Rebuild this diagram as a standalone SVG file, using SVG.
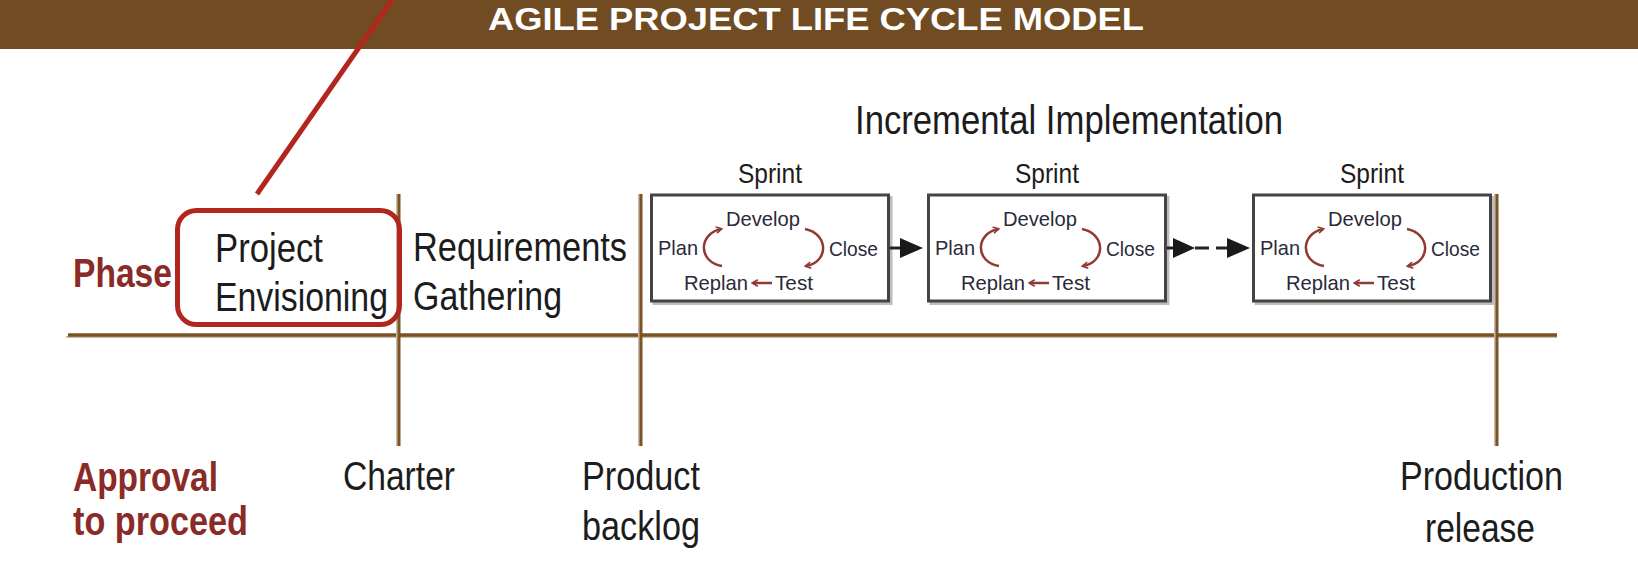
<svg xmlns="http://www.w3.org/2000/svg" width="1638" height="574" viewBox="0 0 1638 574">
<style>
text{font-family:"Liberation Sans",Arial,sans-serif;}
.lab{font-size:41px;fill:#1c1c1c;}
.red{font-size:41px;font-weight:bold;fill:#8a2b27;}
.hdr{font-size:32px;font-weight:bold;fill:#ffffff;}
.spt{font-size:28px;fill:#1c1c1c;}
.in{font-size:21px;fill:#2a2a3a;}
.vline{stroke:#7a5326;stroke-width:3;fill:none;}
.vsh{stroke:#cbbba5;stroke-width:2;fill:none;}
.arc{stroke:#8e3a35;stroke-width:2.5;fill:none;}
.box{fill:#fff;stroke:#444;stroke-width:3;}
.boxsh{fill:none;stroke:#bdbdbd;stroke-width:3;}
.conn{stroke:#222;stroke-width:3;fill:none;}
</style>
<defs>
<marker id="ah" viewBox="0 0 10 10" refX="7" refY="5" markerWidth="3.2" markerHeight="3.2" orient="auto" markerUnits="strokeWidth">
<path d="M1,1 L8,5 L1,9" fill="none" stroke="#8e3a35" stroke-width="2"/>
</marker>
<g id="sprint">
<rect class="boxsh" x="4" y="197.5" width="237" height="106"/>
<rect class="box" x="1.5" y="195" width="237" height="106"/>
<text class="spt" x="120" y="183" text-anchor="middle" textLength="64" lengthAdjust="spacingAndGlyphs">Sprint</text>
<text class="in" x="8" y="255" textLength="40" lengthAdjust="spacingAndGlyphs">Plan</text>
<text class="in" x="76" y="226" textLength="74" lengthAdjust="spacingAndGlyphs">Develop</text>
<text class="in" x="179" y="256" textLength="49" lengthAdjust="spacingAndGlyphs">Close</text>
<text class="in" x="34" y="290" textLength="64" lengthAdjust="spacingAndGlyphs">Replan</text>
<text class="in" x="125" y="290" textLength="38" lengthAdjust="spacingAndGlyphs">Test</text>
<path class="arc" d="M72,266 C48,262 48,234 71,229" marker-end="url(#ah)"/>
<path class="arc" d="M155,229 C179,234 179,262 156,266" marker-end="url(#ah)"/>
<path class="arc" d="M122,283 L103,283" marker-end="url(#ah)"/>
</g>
</defs>

<g id="header">
<rect x="0" y="0" width="1638" height="49" fill="#714b21"/>
<text class="hdr" x="488" y="30" textLength="656" lengthAdjust="spacingAndGlyphs">AGILE PROJECT LIFE CYCLE MODEL</text>
</g>

<g id="grid">
<line class="vsh" x1="66" y1="337" x2="1557" y2="337"/>
<line x1="68" y1="335" x2="1557" y2="335" stroke="#7a5326" stroke-width="3.5"/>
<line class="vsh" x1="397" y1="194" x2="397" y2="446"/>
<line class="vline" x1="399" y1="194" x2="399" y2="446"/>
<line class="vsh" x1="639" y1="194" x2="639" y2="446"/>
<line class="vline" x1="641" y1="194" x2="641" y2="446"/>
<line class="vsh" x1="1495" y1="194" x2="1495" y2="446"/>
<line class="vline" x1="1497" y1="194" x2="1497" y2="446"/>
</g>

<g id="phase-label">
<text class="red" x="73" y="287" textLength="99" lengthAdjust="spacingAndGlyphs">Phase</text>
</g>

<g id="project-envisioning">
<rect x="177.5" y="210.5" width="222" height="114" rx="19" fill="none" stroke="#b3261e" stroke-width="5"/>
<text class="lab" x="215" y="262" textLength="108" lengthAdjust="spacingAndGlyphs">Project</text>
<text class="lab" x="215" y="311" textLength="173" lengthAdjust="spacingAndGlyphs">Envisioning</text>
</g>

<g id="requirements-gathering">
<text class="lab" x="413" y="261" textLength="214" lengthAdjust="spacingAndGlyphs">Requirements</text>
<text class="lab" x="413" y="310" textLength="149" lengthAdjust="spacingAndGlyphs">Gathering</text>
</g>

<g id="incremental-implementation">
<text class="lab" x="855" y="134" textLength="428" lengthAdjust="spacingAndGlyphs">Incremental Implementation</text>
</g>

<g id="sprint1"><use href="#sprint" transform="translate(650,0)"/></g>
<g id="sprint2"><use href="#sprint" transform="translate(927,0)"/></g>
<g id="sprint3"><use href="#sprint" transform="translate(1252,0)"/></g>

<g id="connectors">
<line x1="392" y1="0" x2="257" y2="194" stroke="#b3261e" stroke-width="5"/>
<line class="conn" x1="890" y1="248" x2="904" y2="248"/>
<polygon points="900,238 923,248 900,258" fill="#1a1a1a"/>
<line class="conn" x1="1167" y1="248" x2="1176" y2="248"/>
<polygon points="1173,238 1195,248 1173,258" fill="#1a1a1a"/>
<line class="conn" x1="1195" y1="248" x2="1209" y2="248" stroke="#555"/>
<line class="conn" x1="1216" y1="248" x2="1228" y2="248" stroke="#555"/>
<polygon points="1227,238 1250,248 1227,258" fill="#1a1a1a"/>
</g>

<g id="approval-label">
<text class="red" x="73" y="491" textLength="145" lengthAdjust="spacingAndGlyphs">Approval</text>
<text class="red" x="73" y="535" textLength="175" lengthAdjust="spacingAndGlyphs">to proceed</text>
</g>

<g id="charter">
<text class="lab" x="343" y="490" textLength="112" lengthAdjust="spacingAndGlyphs">Charter</text>
</g>

<g id="product-backlog">
<text class="lab" x="582" y="490" textLength="118" lengthAdjust="spacingAndGlyphs">Product</text>
<text class="lab" x="582" y="540" textLength="118" lengthAdjust="spacingAndGlyphs">backlog</text>
</g>

<g id="production-release">
<text class="lab" x="1400" y="490" textLength="163" lengthAdjust="spacingAndGlyphs">Production</text>
<text class="lab" x="1425" y="542" textLength="110" lengthAdjust="spacingAndGlyphs">release</text>
</g>
</svg>
